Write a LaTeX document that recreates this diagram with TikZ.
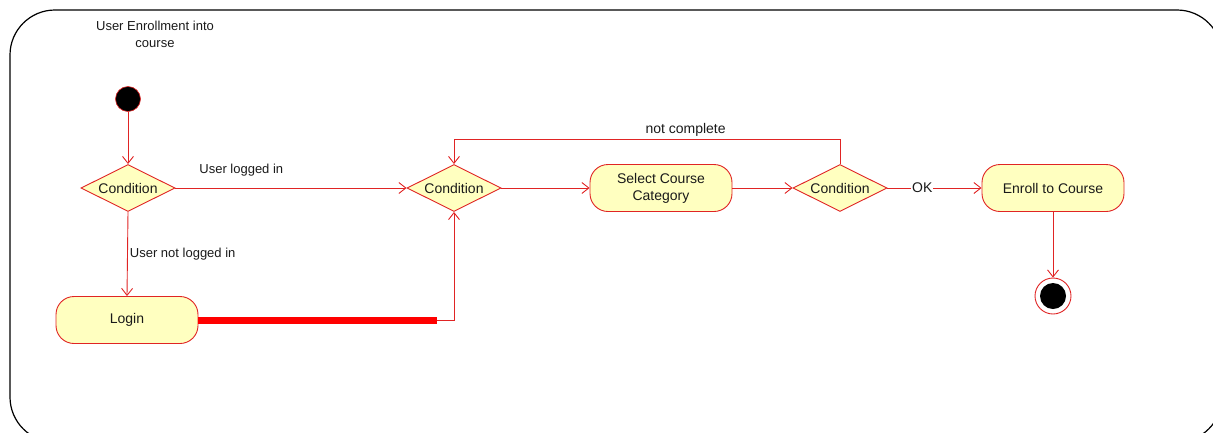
\documentclass[tikz,border=0pt]{standalone}
\usepackage{fontspec}
\setmainfont{Liberation Sans}
\usetikzlibrary{shapes.geometric,arrows.meta}
\definecolor{umlred}{HTML}{E02424}
\definecolor{umlfill}{HTML}{FFFFC0}
\definecolor{txt}{HTML}{1A1A1A}
\begin{document}
\begin{tikzpicture}[x=1pt,y=-1pt,
  every node/.style={text=txt},
  nodefont/.style={font=\fontsize{14}{17}\selectfont},
  lblfont/.style={font=\fontsize{13}{17}\selectfont},
  activity/.style={rectangle, rounded corners=18pt, draw=umlred, fill=umlfill,
    line width=0.9pt, minimum width=142pt, minimum height=47pt, align=center,
    inner sep=0pt, nodefont},
  decision/.style={diamond, aspect=2, draw=umlred, fill=umlfill, line width=0.9pt,
    minimum width=94pt, minimum height=47pt, inner sep=0pt, nodefont},
  flow/.style={draw=umlred, line width=0.9pt, -{Straight Barb[length=7pt,width=11pt]}},
  bar/.style={draw=red, line width=7pt},
  edgelbl/.style={lblfont, inner sep=1pt}]
\useasboundingbox (0,0) rectangle (1213,432);

% swimlane frame
\begin{scope}
  \clip (0,0) rectangle (1213,432);
  \draw[black, line width=1.2pt, rounded corners=45pt] (10,10) rectangle (1222,442);
\end{scope}

% title
\node[lblfont, align=center] (title) at (155,34) {User Enrollment into\\course};

% initial and final states
\node[circle, fill=black, draw=umlred, line width=0.6pt, minimum size=25pt, inner sep=0pt] (start) at (128,99) {};
\node[circle, fill=white, draw=umlred, line width=0.9pt, minimum size=36pt, inner sep=0pt] (endo) at (1053,296) {};
\node[circle, fill=black, minimum size=26pt, inner sep=0pt] (endi) at (1053,296) {};

% decisions and activities
\node[decision] (c1) at (128,188) {Condition};
\node[decision] (c2) at (454,188) {Condition};
\node[activity] (sel) at (661,188) {Select Course\\Category};
\node[decision] (c3) at (840,188) {Condition};
\node[activity] (enr) at (1053,188) {Enroll to Course};
\node[activity] (login) at (127,320) {Login};

% flows
\draw[flow] (start) -- (c1.north);
\draw[flow] (c1.east) -- node[edgelbl, pos=0.285, above=10pt] {User logged in} (c2.west);
\draw[flow] (c1.south) -- node[edgelbl, pos=0.5, right=1pt] {User not logged in} (login.north);
\coordinate (barend) at (437,320);
\draw[bar] (login.east) -- (barend);
\draw[flow] (barend) -| (c2.south);
\draw[flow] (c2.east) -- (sel.west);
\draw[flow] (sel.east) -- (c3.west);
\draw[flow] (c3.north) -- ++(0,-25) -| node[nodefont, pos=0.2, above=1pt, inner sep=1pt] {not complete} (c2.north);
\draw[flow] (c3.east) -- node[nodefont, pos=0.37, fill=white, inner sep=1pt] {OK} (enr.west);
\draw[flow] (enr.south) -- (endo.north);
\end{tikzpicture}
\end{document}
